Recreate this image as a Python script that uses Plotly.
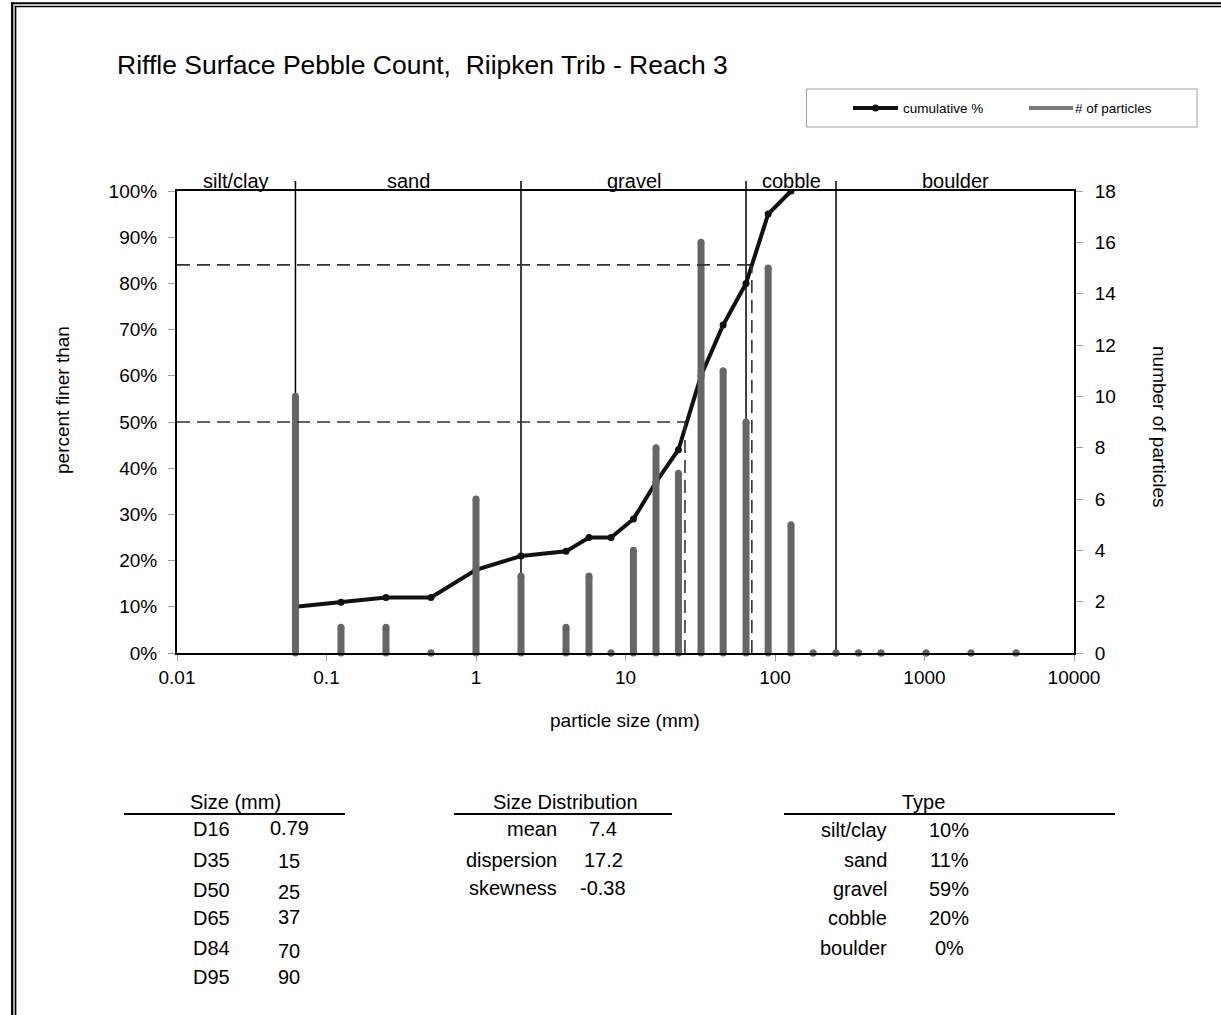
import math
import plotly.graph_objects as go

# Pebble count data: size class (mm), particles per class, cumulative % finer
sizes = [0.062, 0.125, 0.25, 0.5, 1, 2, 4, 5.7, 8, 11.3, 16, 22.6, 32, 45,
         64, 90, 128, 180, 256, 362, 512, 1024, 2048, 4096]
counts = [10, 1, 1, 0, 6, 3, 1, 3, 0, 4, 8, 7, 16, 11, 9, 15, 5,
          0, 0, 0, 0, 0, 0, 0]
cum_sizes = [0.062, 0.125, 0.25, 0.5, 1, 2, 4, 5.7, 8, 11.3, 16, 22.6, 32,
             45, 64, 90, 128]
cum_pct = [10, 11, 12, 12, 18, 21, 22, 25, 25, 29, 37, 44, 60, 71, 80, 95, 100]

# Sediment classes and their boundaries (mm)
class_names = ["silt/clay", "sand", "gravel", "cobble", "boulder"]
class_bounds = [0.01, 0.062, 2, 64, 256, 10000]

# Summary tables
d_labels = ["D16", "D35", "D50", "D65", "D84", "D95"]
d_values = ["0.79", "15", "25", "37", "70", "90"]
d50_mm = 25
d84_mm = 70
dist_labels = ["mean", "dispersion", "skewness"]
dist_values = ["7.4", "17.2", "-0.38"]
type_labels = ["silt/clay", "sand", "gravel", "cobble", "boulder"]
type_values = ["10%", "11%", "59%", "20%", "0%"]

x_ticks = [0.01, 0.1, 1, 10, 100, 1000, 10000]
x_ticktext = ["0.01", "0.1", "1", "10", "100", "1000", "10000"]
left_ticks = list(range(0, 101, 10))
right_ticks = list(range(0, 19, 2))

W, H = 1221, 1015
X0, X1, Y0, Y1 = 177, 1074, 191, 653   # plot area in pixels
FONT = "Liberation Sans, Arial, sans-serif"
BAR = "#666666"


def px(x):
    return (x - X0) / (X1 - X0)


def py(y):
    return (Y1 - y) / (Y1 - Y0)


fig = go.Figure()

# cumulative percent finer curve (left axis)
fig.add_trace(go.Scatter(
    x=cum_sizes, y=cum_pct, mode="lines+markers", yaxis="y",
    line=dict(color="#111111", width=4),
    marker=dict(color="#111111", size=7), showlegend=False,
    name="cumulative %"))

# particle count per size class, drawn as thick stems (right axis)
bx, by = [], []
for s, c in zip(sizes, counts):
    bx += [s, s, None]
    by += [0, c, None]
fig.add_trace(go.Scatter(
    x=bx, y=by, mode="lines+markers", yaxis="y2",
    line=dict(color=BAR, width=7), marker=dict(color=BAR, size=7),
    cliponaxis=False, showlegend=False, name="# of particles"))

shapes = []
annotations = []

# class boundary lines, reaching a little above the frame
for b in class_bounds[1:-1]:
    shapes.append(dict(type="line", xref="x", yref="paper", x0=b, x1=b,
                       y0=0, y1=py(181), layer="below",
                       line=dict(color="black", width=1.5)))

# class names centred (in log space) over each class
for name, lo, hi in zip(class_names, class_bounds[:-1], class_bounds[1:]):
    xc = (math.log10(lo) + math.log10(hi)) / 2
    annotations.append(dict(x=xc, y=py(181), xref="x", yref="paper",
                            text=name, showarrow=False, xanchor="center",
                            yanchor="middle",
                            font=dict(size=20, color="black", family=FONT)))

# D50 and D84 guides
dash = dict(color="#333333", width=1.6, dash="13px,7px")
for dval, pct in [(d50_mm, 50), (d84_mm, 84)]:
    shapes.append(dict(type="line", xref="x", yref="y", x0=class_bounds[0],
                       x1=dval, y0=pct, y1=pct, line=dash))
    shapes.append(dict(type="line", xref="x", yref="y", x0=dval, x1=dval,
                       y0=0, y1=pct, line=dash))

# legend box, drawn by hand
shapes.append(dict(type="rect", xref="paper", yref="paper",
                   x0=px(806.5), x1=px(1197), y0=py(89), y1=py(127),
                   line=dict(color="#a0a0a0", width=1)))
shapes.append(dict(type="line", xref="paper", yref="paper",
                   x0=px(853), x1=px(898), y0=py(108), y1=py(108),
                   line=dict(color="#111111", width=4)))
shapes.append(dict(type="circle", xref="paper", yref="paper",
                   x0=px(872), x1=px(879), y0=py(104.5), y1=py(111.5),
                   fillcolor="#111111", line=dict(color="#111111", width=0)))
shapes.append(dict(type="line", xref="paper", yref="paper",
                   x0=px(1029), x1=px(1073), y0=py(108), y1=py(108),
                   line=dict(color="#7a7a7a", width=4)))


def text(x, y, s, anchor="center", size=20, angle=0):
    annotations.append(dict(x=px(x), y=py(y), xref="paper", yref="paper",
                            text=s, showarrow=False, xanchor=anchor,
                            yanchor="middle", textangle=angle,
                            font=dict(size=size, color="black", family=FONT)))


def rule(xa, xb, y, width=2):
    shapes.append(dict(type="line", xref="paper", yref="paper",
                       x0=px(xa), x1=px(xb), y0=py(y), y1=py(y),
                       line=dict(color="black", width=width)))


text(901, 108, "cumulative %", anchor="left", size=13.5)
text(1073, 108, "# of particles", anchor="left", size=13.5)

# chart title and axis titles
text(115, 65, "Riffle Surface Pebble Count,&nbsp; Riipken Trib - Reach 3",
     anchor="left", size=26.5)
text(62, 400, "percent finer than", size=19, angle=-90)
text(1160, 427, "number of particles", size=19, angle=90)
text(625, 720, "particle size (mm)", size=19)

# Size (mm) table
text(235, 802, "Size (mm)")
rule(124, 345, 814)
d_label_y = [829, 860, 890, 918, 948, 977]
d_value_y = [828, 861, 892, 917, 951, 977]
for lab, val, yl, yv in zip(d_labels, d_values, d_label_y, d_value_y):
    text(191, yl, lab, anchor="left")
    text(289, yv, val)

# Size Distribution table
text(565, 802, "Size Distribution")
rule(454, 672, 814)
for lab, val, yy in zip(dist_labels, dist_values, [829, 860, 888]):
    text(559, yy, lab, anchor="right")
    text(603, yy, val)

# Type table
text(923, 802, "Type")
rule(784, 1115, 814)
for lab, val, yy in zip(type_labels, type_values, [830, 860, 889, 918, 948]):
    text(889, yy, lab, anchor="right")
    text(949, yy, val)

# double frame along the left and top edges of the page
shapes.append(dict(type="line", xref="paper", yref="paper",
                   x0=px(12.2), x1=px(12.2), y0=py(2.3), y1=py(H),
                   line=dict(color="black", width=2.3)))
shapes.append(dict(type="line", xref="paper", yref="paper",
                   x0=px(15.5), x1=px(15.5), y0=py(5.7), y1=py(H),
                   line=dict(color="black", width=1.7)))
shapes.append(dict(type="line", xref="paper", yref="paper",
                   x0=px(11), x1=px(W), y0=py(3.3), y1=py(3.3),
                   line=dict(color="black", width=2)))
shapes.append(dict(type="line", xref="paper", yref="paper",
                   x0=px(14.7), x1=px(W), y0=py(6.5), y1=py(6.5),
                   line=dict(color="black", width=1.7)))

tickfont = dict(size=19, color="black", family=FONT)
fig.update_layout(
    width=W, height=H,
    margin=dict(l=X0, r=W - X1, t=Y0, b=H - Y1, pad=0),
    paper_bgcolor="white", plot_bgcolor="white",
    showlegend=False,
    font=dict(family=FONT, color="black"),
    xaxis=dict(type="log", range=[-2, 4], tickvals=x_ticks,
               ticktext=x_ticktext, ticks="outside", ticklen=6,
               tickcolor="#a0a0a0", tickfont=tickfont, showgrid=False,
               zeroline=False, showline=True, linecolor="black",
               linewidth=2, mirror=True, ticklabelstandoff=0),
    yaxis=dict(range=[0, 100], tickvals=left_ticks,
               ticktext=[f"{v}%" for v in left_ticks], ticks="outside",
               ticklen=7, tickcolor="#a0a0a0", tickfont=tickfont,
               showgrid=False, zeroline=False, showline=True,
               linecolor="black", linewidth=2, ticklabelstandoff=7),
    yaxis2=dict(range=[0, 18], tickvals=right_ticks, overlaying="y",
                side="right", ticks="outside", ticklen=7,
                tickcolor="#a0a0a0", tickfont=tickfont, showgrid=False,
                zeroline=False, showline=True, linecolor="black",
                linewidth=2, ticklabelstandoff=8),
    shapes=shapes,
    annotations=annotations,
)

fig.write_html("out.html")
